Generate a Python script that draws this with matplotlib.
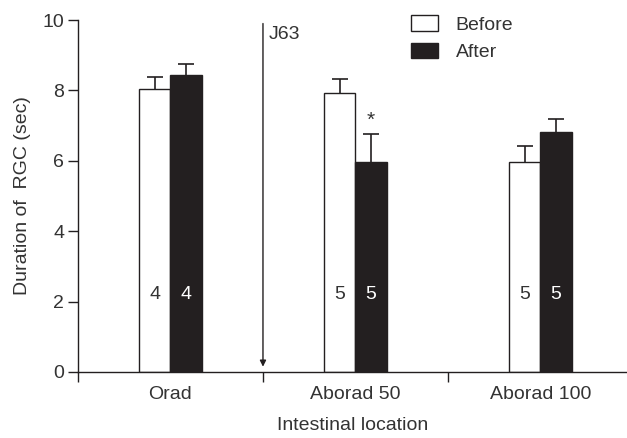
import numpy as np
import matplotlib
matplotlib.use("Agg")
import matplotlib.pyplot as plt

plt.rcParams["font.family"] = ["Liberation Sans", "DejaVu Sans"]

locations = ["Orad", "Aborad 50", "Aborad 100"]
before_mean = [8.03, 7.93, 5.97]
before_err = [0.36, 0.40, 0.46]
after_mean = [8.44, 5.96, 6.83]
after_err = [0.30, 0.80, 0.36]
n_before = [4, 5, 5]
n_after = [4, 5, 5]

INK = "#231f20"
TXT = "#333333"
FS = 14

fig = plt.figure(figsize=(6.27, 4.38), dpi=100)
ax = fig.add_axes([0.1244, 0.1507, 1.0 - 0.1244, 0.9543 - 0.1507])

centers = np.arange(len(locations)) + 0.5
width = 0.168

ax.bar(centers - width / 2, before_mean, width, color="white", edgecolor=INK,
       linewidth=1.0, label="Before", zorder=2)
ax.bar(centers + width / 2, after_mean, width, color=INK, edgecolor=INK,
       linewidth=1.0, label="After", zorder=2)

# upward-only error bars; hide the lower cap that would sit on the bar top
for xs, means, errs in [(centers - width / 2, before_mean, before_err),
                        (centers + width / 2, after_mean, after_err)]:
    eb = ax.errorbar(xs, means, yerr=[np.zeros(3), errs], fmt="none", ecolor=INK,
                     elinewidth=1.2, capsize=5.5, capthick=1.2, zorder=1)
    eb[1][0].set_visible(False)

for i, c in enumerate(centers):
    ax.text(c - width / 2, 2.2, str(n_before[i]), ha="center", va="center",
            fontsize=FS, color=TXT, zorder=3)
    ax.text(c + width / 2, 2.2, str(n_after[i]), ha="center", va="center",
            fontsize=FS, color="white", zorder=3)

# significance marker
ax.text(centers[1] + width / 2, 7.15, "*", ha="center", va="center",
        fontsize=FS + 1, color=TXT)

# J63 arrow
ax.annotate("", xy=(1.0, 0.15), xytext=(1.0, 9.9),
            arrowprops=dict(arrowstyle="-|>", color=INK, lw=1.0,
                            mutation_scale=9, shrinkA=0, shrinkB=0))
ax.text(1.03, 9.6, "J63", ha="left", va="center", fontsize=FS, color=TXT)

ax.set_xlim(0, 2.968)
ax.set_ylim(0, 10)
ax.set_yticks([0, 2, 4, 6, 8, 10])
ax.set_xticks(centers)
ax.set_xticklabels(locations)
ax.set_xticks([0, 1, 2], minor=True)
ax.tick_params(axis="x", which="major", length=0, pad=10, labelsize=FS, labelcolor=TXT)
ax.tick_params(axis="x", which="minor", length=7, width=1.0, color=INK)
ax.tick_params(axis="y", length=7, width=1.0, color=INK, labelsize=FS,
               labelcolor=TXT, pad=3)

for side in ["top", "right"]:
    ax.spines[side].set_visible(False)
for side in ["left", "bottom"]:
    ax.spines[side].set_color(INK)
    ax.spines[side].set_linewidth(1.0)

ax.set_xlabel("Intestinal location", fontsize=FS, color=TXT, labelpad=10)
ax.set_ylabel("Duration of  RGC (sec)", fontsize=FS, color=TXT, labelpad=8)

ax.legend(loc="upper left", bbox_to_anchor=(0.592, 1.035), frameon=False,
          fontsize=FS, handlelength=1.4, handleheight=0.85, handletextpad=0.9,
          labelspacing=0.45, labelcolor=TXT, borderaxespad=0)

fig.savefig("out.png", dpi=100)
